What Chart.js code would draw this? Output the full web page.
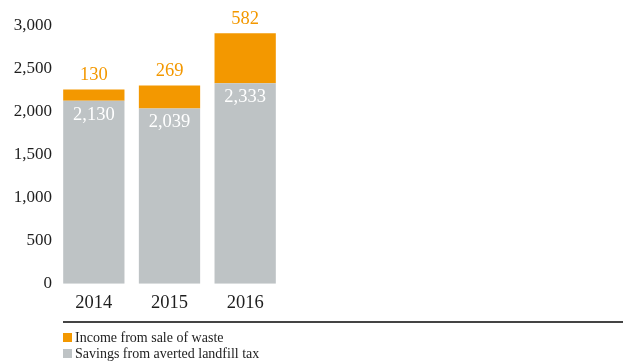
<!DOCTYPE html>
<html>
  <head>
    <title>Waste income and savings</title>
    <style>
      body { margin: 0; background: #fff; }
      #wrap { width: 623px; height: 361px; }
    </style>
  </head>
  <body>
    <div id="wrap"><canvas id="chart" width="623" height="361"></canvas></div>

    <script src="https://cdn.jsdelivr.net/npm/chart.js"></script>
    <script>
      const years = ["2014", "2015", "2016"];
      const savings = [2130, 2039, 2333];
      const income = [130, 269, 582];
      const yTicks = [0, 500, 1000, 1500, 2000, 2500, 3000];

      const FONT = "'Liberation Serif', 'DejaVu Serif', serif";
      const ORANGE = "#f39800";
      const GREY = "#bec3c5";

      const fmt = (v) => v.toLocaleString("en-US");

      // labels on the bars + rule + legend underneath
      const extras = {
        id: "extras",
        afterDatasetsDraw(chart) {
          const ctx = chart.ctx;
          const low = chart.getDatasetMeta(0).data;
          const high = chart.getDatasetMeta(1).data;
          ctx.save();
          ctx.textAlign = "center";
          ctx.textBaseline = "middle";
          ctx.font = "18.5px " + FONT;
          low.forEach((bar, i) => {
            ctx.fillStyle = "#ffffff";
            ctx.fillText(fmt(savings[i]), bar.x, bar.y + 14);
          });
          high.forEach((bar, i) => {
            ctx.fillStyle = ORANGE;
            ctx.fillText(fmt(income[i]), bar.x, bar.y - 14);
          });

          const left = Math.round(low[0].x - low[0].width / 2);
          ctx.strokeStyle = "#444";
          ctx.lineWidth = 2;
          ctx.beginPath();
          ctx.moveTo(left, 322);
          ctx.lineTo(chart.width, 322);
          ctx.stroke();

          const items = [chart.data.datasets[1], chart.data.datasets[0]];
          ctx.textAlign = "left";
          ctx.font = "14px " + FONT;
          items.forEach((ds, i) => {
            const y = 337.5 + i * 16;
            ctx.fillStyle = ds.backgroundColor;
            ctx.fillRect(left, y - 4.5, 9, 9);
            ctx.fillStyle = "#222";
            ctx.fillText(ds.label, left + 12, y + 1);
          });
          ctx.restore();
        },
      };

      new Chart(document.getElementById("chart"), {
        type: "bar",
        data: {
          labels: years,
          datasets: [
            {
              label: "Savings from averted landfill tax",
              data: savings,
              backgroundColor: GREY,
            },
            {
              label: "Income from sale of waste",
              data: income,
              backgroundColor: ORANGE,
            },
          ],
        },
        options: {
          responsive: false,
          animation: false,
          events: [],
          layout: { padding: { top: 26, right: 340, bottom: 39, left: 0 } },
          plugins: { legend: { display: false }, tooltip: { enabled: false } },
          datasets: { bar: { categoryPercentage: 1, barPercentage: 0.81 } },
          scales: {
            x: {
              stacked: true,
              grid: { display: false, drawTicks: false },
              border: { display: false },
              ticks: { color: "#1e1e1e", font: { family: FONT, size: 18.5 }, padding: 8 },
            },
            y: {
              stacked: true,
              min: 0,
              max: 3000,
              afterBuildTicks: (axis) => {
                axis.ticks = yTicks.map((v) => ({ value: v }));
              },
              afterFit: (axis) => {
                axis.width = 56;
              },
              grid: { display: false, drawTicks: false },
              border: { display: false },
              ticks: {
                color: "#1e1e1e",
                font: { family: FONT, size: 17 },
                padding: 4,
                callback: (v) => fmt(v),
              },
            },
          },
        },
        plugins: [extras],
      });
    </script>
  </body>
</html>
